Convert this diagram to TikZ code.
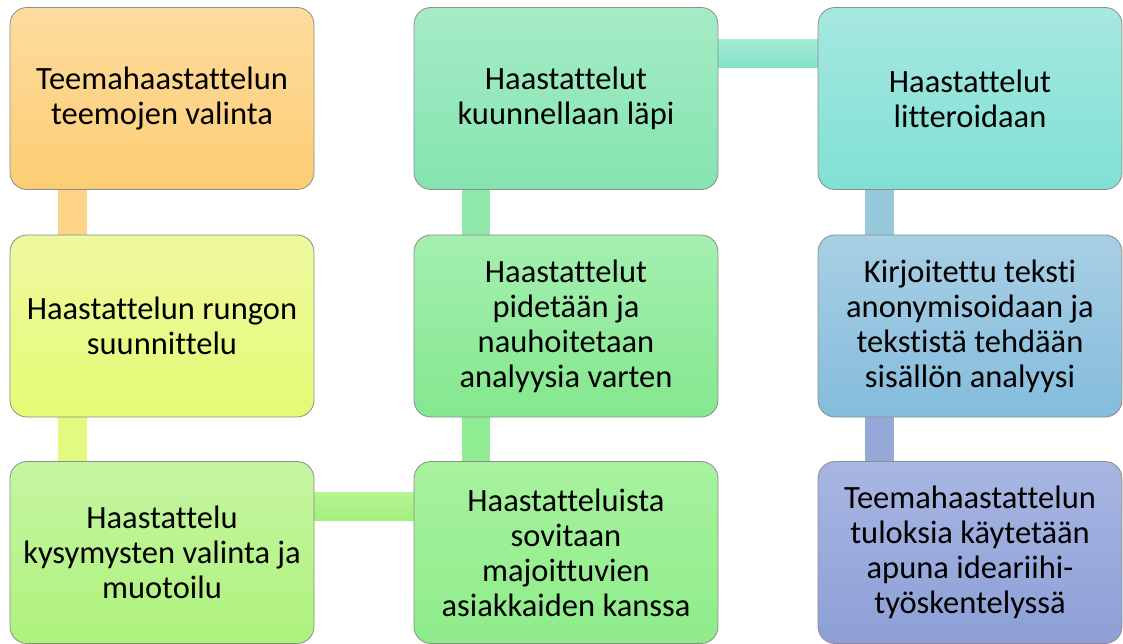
\documentclass[tikz,border=0pt]{standalone}
\usepackage{fontspec}
\setmainfont{Carlito}[Ligatures=NoCommon]
\usetikzlibrary{calc,backgrounds}

% step boxes of the bending process
\tikzset{
  stepbox/.style={rectangle, rounded corners=17pt, draw=black!45, line width=0.8pt,
    minimum width=304pt, minimum height=182pt, align=center, inner sep=0pt,
    font=\fontsize{32.5}{35}\selectfont, text=black},
  shadeto/.style n args={2}{top color=#1, bottom color=#2},
}

\definecolor{bAt}{HTML}{FEDC9E}\definecolor{bAb}{HTML}{FCCD74}\definecolor{cA}{HTML}{FDD48A}
\definecolor{bBt}{HTML}{EEF9A0}\definecolor{bBb}{HTML}{E6FA74}\definecolor{cB}{HTML}{E2FA80}
\definecolor{bCt}{HTML}{C6F5A2}\definecolor{bCb}{HTML}{AEF27C}\definecolor{cCt}{HTML}{B6F594}\definecolor{cCb}{HTML}{A2F07E}
\definecolor{bDt}{HTML}{A8F29E}\definecolor{bDb}{HTML}{8EEC8A}\definecolor{cD}{HTML}{90EC92}
\definecolor{bEt}{HTML}{A4EFB0}\definecolor{bEb}{HTML}{84E88E}\definecolor{cE}{HTML}{8EE8AA}
\definecolor{bFt}{HTML}{A6ECC6}\definecolor{bFb}{HTML}{84E4B0}\definecolor{cFt}{HTML}{A4EDD8}\definecolor{cFb}{HTML}{82E2C6}
\definecolor{bGt}{HTML}{A6E8E0}\definecolor{bGb}{HTML}{80E0D4}\definecolor{cG}{HTML}{98C8DC}
\definecolor{bHt}{HTML}{A8CFE4}\definecolor{bHb}{HTML}{84BCDC}\definecolor{cH}{HTML}{96A8D8}
\definecolor{bIt}{HTML}{A8B6E2}\definecolor{bIb}{HTML}{8C9FD6}

\begin{document}
\begin{tikzpicture}[x=1pt,y=1pt]
\useasboundingbox (0,0) rectangle (1123,-644);

% column 1, top to bottom
\node[stepbox, shadeto={bAt}{bAb}] (s1) at (162,-98.5) {Teemahaastattelun\\teemojen valinta};
\node[stepbox, shadeto={bBt}{bBb}] (s2) at (162,-326) {Haastattelun rungon\\suunnittelu};
\node[stepbox, shadeto={bCt}{bCb}] (s3) at (162,-552.5) {Haastattelu\\kysymysten valinta ja\\muotoilu};
% column 2, bottom to top
\node[stepbox, shadeto={bDt}{bDb}] (s4) at (566,-552.5) {Haastatteluista\\sovitaan\\majoittuvien\\asiakkaiden kanssa};
\node[stepbox, shadeto={bEt}{bEb}] (s5) at (566,-326) {Haastattelut\\pidetään ja\\nauhoitetaan\\analyysia varten};
\node[stepbox, shadeto={bFt}{bFb}] (s6) at (566,-98.5) {Haastattelut\\kuunnellaan läpi};
% column 3, top to bottom
\node[stepbox, shadeto={bGt}{bGb}] (s7) at (970,-98.5) {Haastattelut\\litteroidaan};
\node[stepbox, shadeto={bHt}{bHb}] (s8) at (970,-326) {Kirjoitettu teksti\\anonymisoidaan ja\\tekstistä tehdään\\sisällön analyysi};
\node[stepbox, shadeto={bIt}{bIb}] (s9) at (970,-552.5) {Teemahaastattelun\\tuloksia käytetään\\apuna ideariihi-\\työskentelyssä};

% connecting bars behind the boxes
\begin{scope}[on background layer]
  \fill[cA] ($(s1.south west)+(48,2)$) rectangle ($(s2.north west)+(77,-2)$);
  \fill[cB] ($(s2.south west)+(48,2)$) rectangle ($(s3.north west)+(77,-2)$);
  \shade[top color=cCt, bottom color=cCb] ($(s3.north east)+(-2,-31)$) rectangle ($(s4.north west)+(2,-59)$);
  \fill[cD] ($(s4.north west)+(48,-2)$) rectangle ($(s5.south west)+(76,2)$);
  \fill[cE] ($(s5.north west)+(48,-2)$) rectangle ($(s6.south west)+(76,2)$);
  \shade[top color=cFt, bottom color=cFb] ($(s6.north east)+(-2,-32)$) rectangle ($(s7.north west)+(2,-60)$);
  \fill[cG] ($(s7.south west)+(47,2)$) rectangle ($(s8.north west)+(76,-2)$);
  \fill[cH] ($(s8.south west)+(47,2)$) rectangle ($(s9.north west)+(76,-2)$);
\end{scope}
\end{tikzpicture}
\end{document}
